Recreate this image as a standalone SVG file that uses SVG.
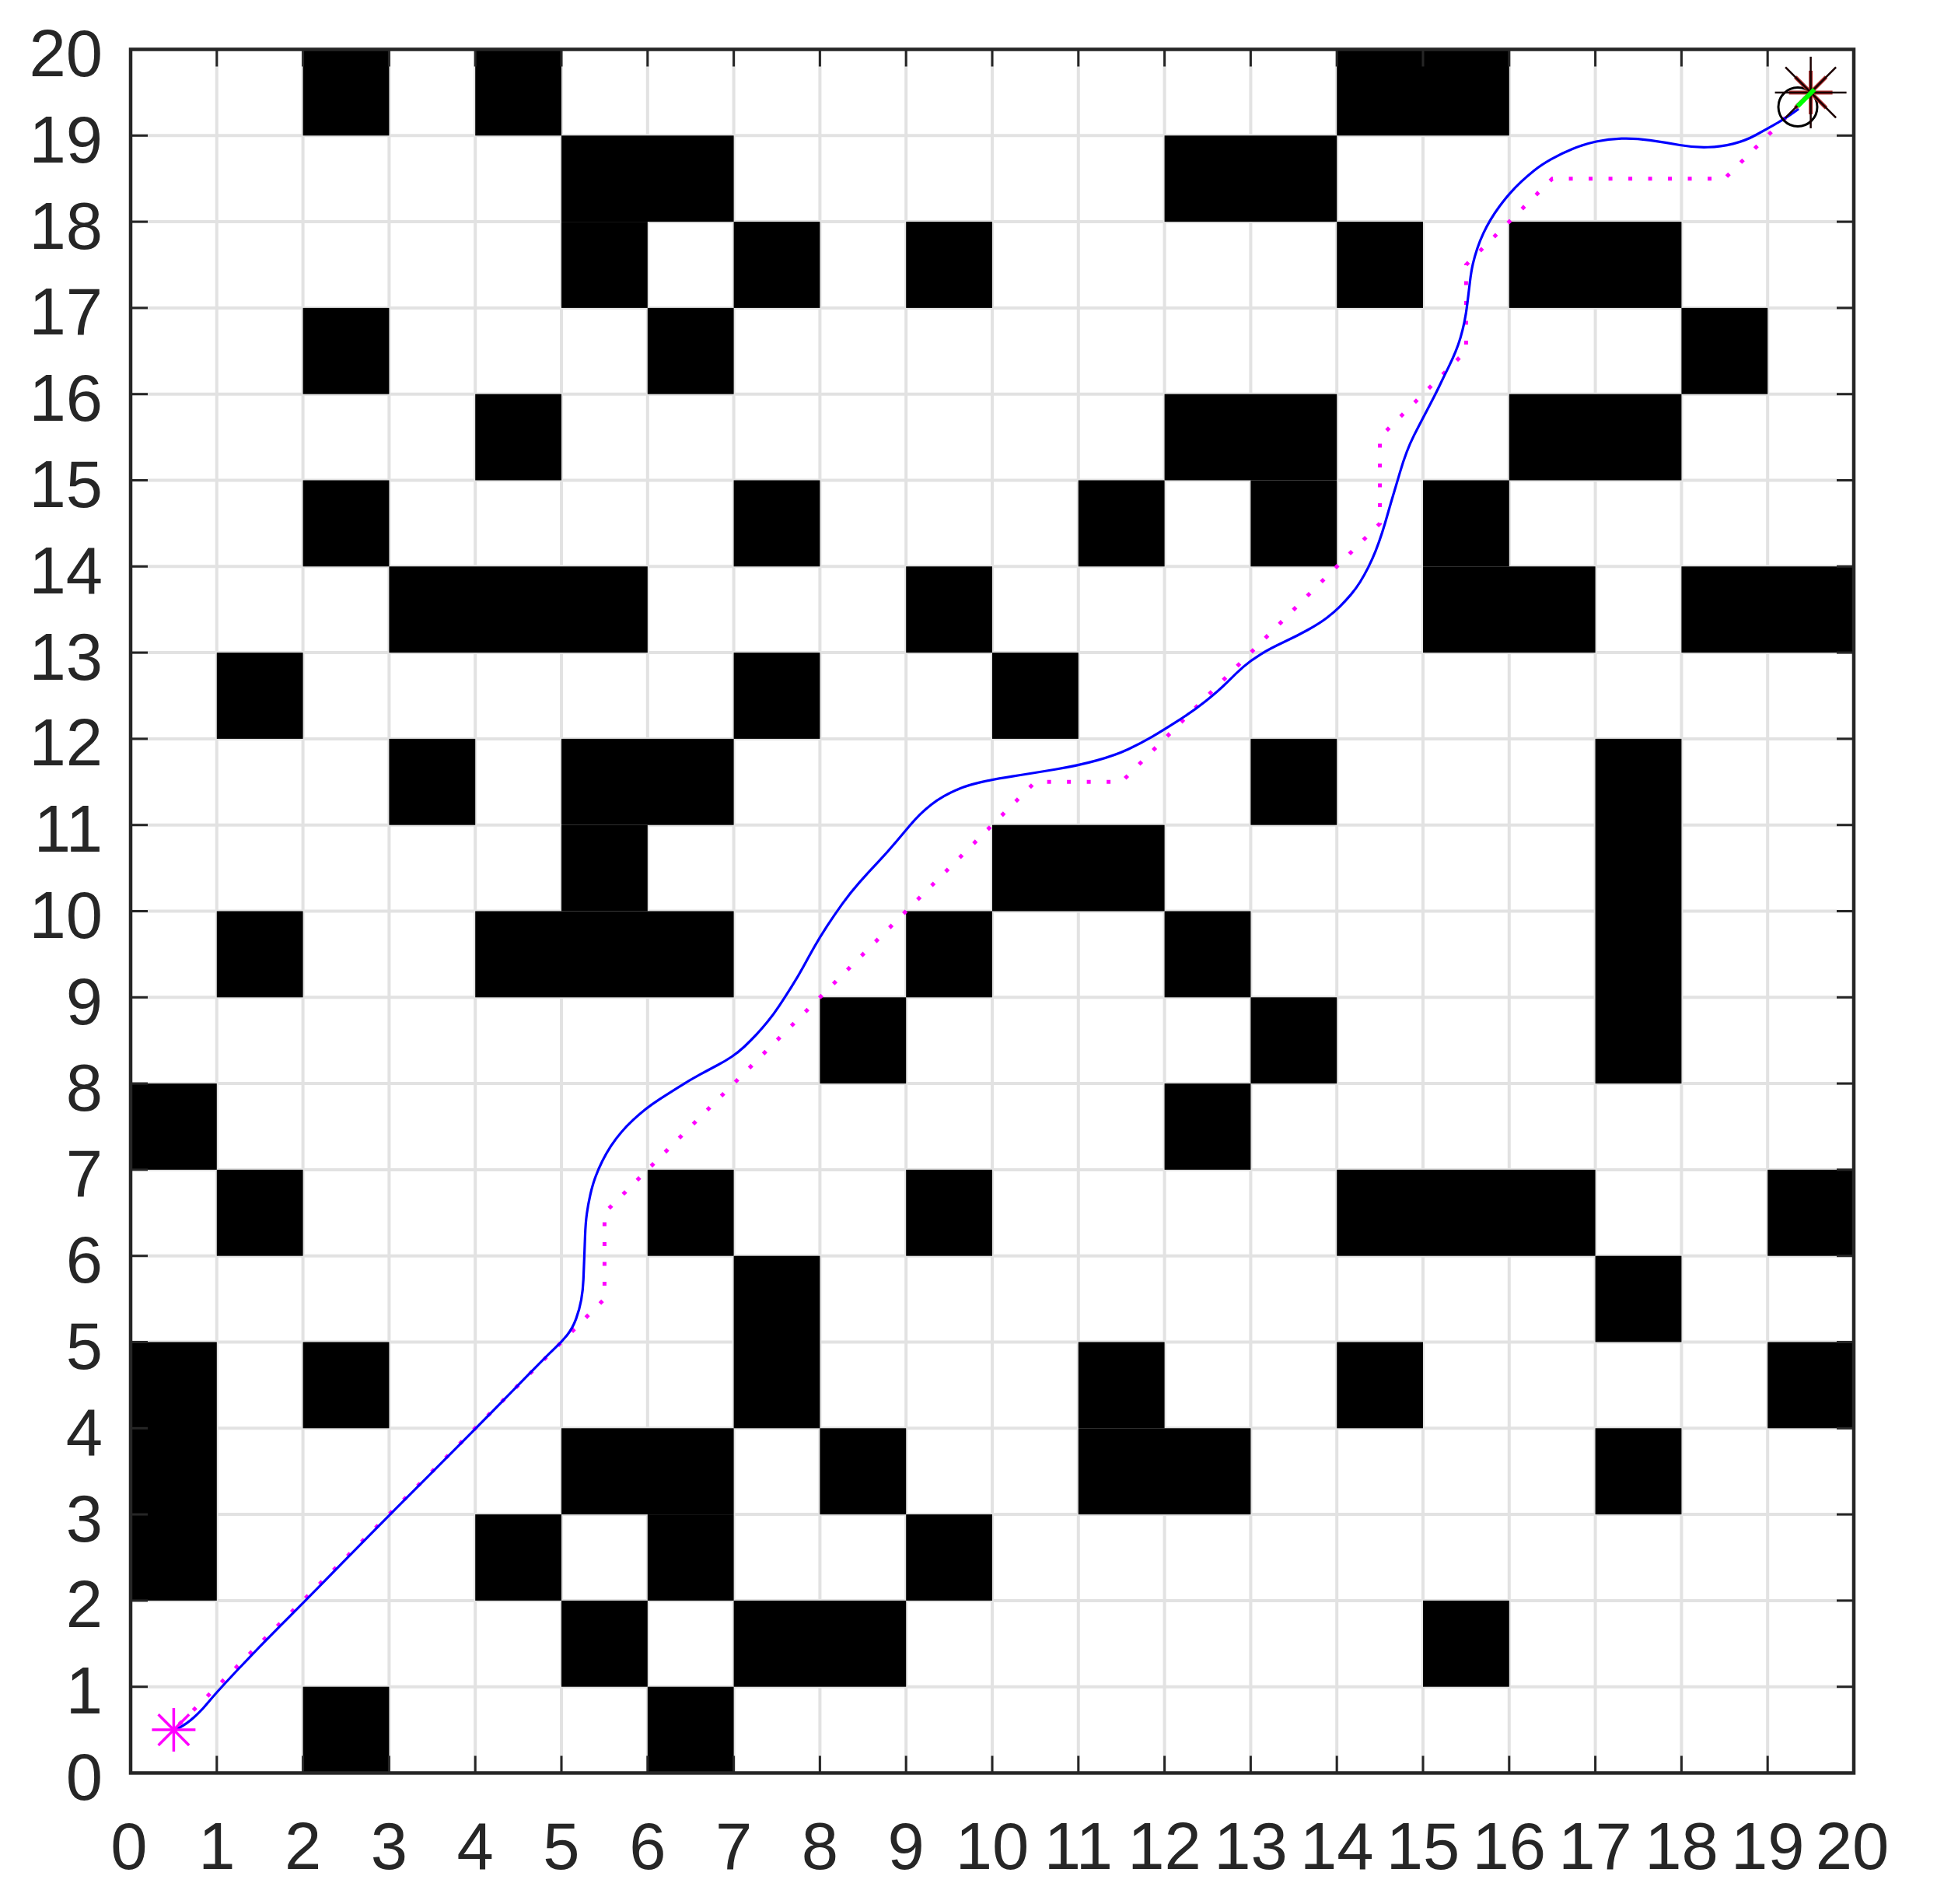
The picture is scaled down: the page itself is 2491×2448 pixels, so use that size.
<svg xmlns="http://www.w3.org/2000/svg" width="2491" height="2448" viewBox="0 0 2491 2448">
<style>
.grid line{stroke:#e2e2e2;stroke-width:4}
.tick line{stroke:#262626;stroke-width:3}
.lbl{font-family:"Liberation Sans",Arial,sans-serif;font-size:85px;fill:#262626}
.obs rect{fill:#000}
</style>
<rect x="0" y="0" width="2491" height="2448" fill="#fff"/>
<!-- grid lines -->
<g class="grid" id="grid">
<line x1="278.8" y1="63.5" x2="278.8" y2="2279.5"/><line x1="389.6" y1="63.5" x2="389.6" y2="2279.5"/><line x1="500.4" y1="63.5" x2="500.4" y2="2279.5"/><line x1="611.2" y1="63.5" x2="611.2" y2="2279.5"/><line x1="722" y1="63.5" x2="722" y2="2279.5"/><line x1="832.8" y1="63.5" x2="832.8" y2="2279.5"/><line x1="943.6" y1="63.5" x2="943.6" y2="2279.5"/><line x1="1054.4" y1="63.5" x2="1054.4" y2="2279.5"/><line x1="1165.2" y1="63.5" x2="1165.2" y2="2279.5"/><line x1="1276" y1="63.5" x2="1276" y2="2279.5"/><line x1="1386.8" y1="63.5" x2="1386.8" y2="2279.5"/><line x1="1497.6" y1="63.5" x2="1497.6" y2="2279.5"/><line x1="1608.4" y1="63.5" x2="1608.4" y2="2279.5"/><line x1="1719.2" y1="63.5" x2="1719.2" y2="2279.5"/><line x1="1830" y1="63.5" x2="1830" y2="2279.5"/><line x1="1940.8" y1="63.5" x2="1940.8" y2="2279.5"/><line x1="2051.6" y1="63.5" x2="2051.6" y2="2279.5"/><line x1="2162.4" y1="63.5" x2="2162.4" y2="2279.5"/><line x1="2273.2" y1="63.5" x2="2273.2" y2="2279.5"/>
<line x1="168" y1="2168.7" x2="2384" y2="2168.7"/><line x1="168" y1="2057.9" x2="2384" y2="2057.9"/><line x1="168" y1="1947.1" x2="2384" y2="1947.1"/><line x1="168" y1="1836.3" x2="2384" y2="1836.3"/><line x1="168" y1="1725.5" x2="2384" y2="1725.5"/><line x1="168" y1="1614.7" x2="2384" y2="1614.7"/><line x1="168" y1="1503.9" x2="2384" y2="1503.9"/><line x1="168" y1="1393.1" x2="2384" y2="1393.1"/><line x1="168" y1="1282.3" x2="2384" y2="1282.3"/><line x1="168" y1="1171.5" x2="2384" y2="1171.5"/><line x1="168" y1="1060.7" x2="2384" y2="1060.7"/><line x1="168" y1="949.9" x2="2384" y2="949.9"/><line x1="168" y1="839.1" x2="2384" y2="839.1"/><line x1="168" y1="728.3" x2="2384" y2="728.3"/><line x1="168" y1="617.5" x2="2384" y2="617.5"/><line x1="168" y1="506.7" x2="2384" y2="506.7"/><line x1="168" y1="395.9" x2="2384" y2="395.9"/><line x1="168" y1="285.1" x2="2384" y2="285.1"/><line x1="168" y1="174.3" x2="2384" y2="174.3"/>
</g>
<!-- obstacles, in map units -->
<g class="obs" id="obstacles" transform="matrix(110.8 0 0 -110.8 168 2279.5)">
<rect x="2" y="0" width="1" height="1"/><rect x="6" y="0" width="1" height="1"/>
<rect x="5" y="1" width="1" height="1"/><rect x="7" y="1" width="2" height="1"/><rect x="15" y="1" width="1" height="1"/>
<rect x="0" y="2" width="1" height="3"/><rect x="4" y="2" width="1" height="1"/><rect x="6" y="2" width="1" height="1"/><rect x="9" y="2" width="1" height="1"/>
<rect x="5" y="3" width="2" height="1"/><rect x="8" y="3" width="1" height="1"/><rect x="11" y="3" width="2" height="1"/><rect x="17" y="3" width="1" height="1"/>
<rect x="2" y="4" width="1" height="1"/><rect x="7" y="4" width="1" height="2"/><rect x="11" y="4" width="1" height="1"/><rect x="14" y="4" width="1" height="1"/><rect x="19" y="4" width="1" height="1"/>
<rect x="17" y="5" width="1" height="1"/>
<rect x="1" y="6" width="1" height="1"/><rect x="6" y="6" width="1" height="1"/><rect x="9" y="6" width="1" height="1"/><rect x="14" y="6" width="3" height="1"/><rect x="19" y="6" width="1" height="1"/>
<rect x="0" y="7" width="1" height="1"/><rect x="12" y="7" width="1" height="1"/>
<rect x="8" y="8" width="1" height="1"/><rect x="13" y="8" width="1" height="1"/><rect x="17" y="8" width="1" height="4"/>
<rect x="1" y="9" width="1" height="1"/><rect x="4" y="9" width="3" height="1"/><rect x="9" y="9" width="1" height="1"/><rect x="12" y="9" width="1" height="1"/>
<rect x="5" y="10" width="1" height="1"/><rect x="10" y="10" width="2" height="1"/>
<rect x="3" y="11" width="1" height="1"/><rect x="5" y="11" width="2" height="1"/><rect x="13" y="11" width="1" height="1"/>
<rect x="1" y="12" width="1" height="1"/><rect x="7" y="12" width="1" height="1"/><rect x="10" y="12" width="1" height="1"/>
<rect x="3" y="13" width="3" height="1"/><rect x="9" y="13" width="1" height="1"/><rect x="15" y="13" width="2" height="1"/><rect x="18" y="13" width="2" height="1"/>
<rect x="2" y="14" width="1" height="1"/><rect x="7" y="14" width="1" height="1"/><rect x="11" y="14" width="1" height="1"/><rect x="13" y="14" width="1" height="1"/><rect x="15" y="14" width="1" height="1"/>
<rect x="4" y="15" width="1" height="1"/><rect x="12" y="15" width="2" height="1"/><rect x="16" y="15" width="2" height="1"/>
<rect x="2" y="16" width="1" height="1"/><rect x="6" y="16" width="1" height="1"/><rect x="18" y="16" width="1" height="1"/>
<rect x="5" y="17" width="1" height="1"/><rect x="7" y="17" width="1" height="1"/><rect x="9" y="17" width="1" height="1"/><rect x="14" y="17" width="1" height="1"/><rect x="16" y="17" width="2" height="1"/>
<rect x="5" y="18" width="2" height="1"/><rect x="12" y="18" width="2" height="1"/>
<rect x="2" y="19" width="1" height="1"/><rect x="4" y="19" width="1" height="1"/><rect x="14" y="19" width="2" height="1"/>
</g>
<!-- paths -->
<g id="paths">
<polyline id="grid-path" fill="none" stroke="#ff00ff" stroke-width="5" stroke-dasharray="5 20.5" stroke-dashoffset="-10" points="223.4,2224.1 777.4,1670.1 777.4,1559.3 1331.4,1005.3 1442.2,1005.3 1774.6,672.9 1774.6,562.1 1885.4,451.3 1885.4,340.5 1996.2,229.7 2217.8,229.7 2328.6,118.9"/>
<g transform="matrix(110.8 0 0 -110.8 168 2279.5)">
<path id="smooth-path" fill="none" stroke="#0000ff" stroke-width="3.2" stroke-linejoin="round" vector-effect="non-scaling-stroke" d="M0.5,0.49 L0.575,0.53 Q0.65,0.57 0.735,0.645 Q0.82,0.72 0.91,0.83 Q1,0.94 1.25,1.205 Q1.5,1.47 1.75,1.72 Q2,1.97 2.5,2.48 Q3,2.99 3.5,3.49 Q4,3.99 4.41,4.41 Q4.82,4.83 4.91,4.915 Q5,5 5.065,5.08 Q5.13,5.16 5.17,5.27 Q5.21,5.38 5.23,5.49 Q5.25,5.6 5.255,5.725 Q5.26,5.85 5.265,5.975 Q5.27,6.1 5.275,6.24 Q5.28,6.38 5.295,6.49 Q5.31,6.6 5.335,6.71 Q5.36,6.82 5.395,6.915 Q5.43,7.01 5.475,7.1 Q5.52,7.19 5.575,7.275 Q5.63,7.36 5.695,7.435 Q5.76,7.51 5.83,7.575 Q5.9,7.64 5.975,7.7 Q6.05,7.76 6.135,7.815 Q6.22,7.87 6.355,7.955 Q6.49,8.04 6.61,8.105 Q6.73,8.17 6.815,8.215 Q6.9,8.26 6.975,8.31 Q7.05,8.36 7.125,8.43 Q7.2,8.5 7.265,8.57 Q7.33,8.64 7.395,8.72 Q7.46,8.8 7.53,8.905 Q7.6,9.01 7.675,9.13 Q7.75,9.25 7.81,9.36 Q7.87,9.47 7.935,9.585 Q8,9.7 8.085,9.83 Q8.17,9.96 8.26,10.085 Q8.35,10.21 8.46,10.335 Q8.57,10.46 8.675,10.57 Q8.78,10.68 8.885,10.805 Q8.99,10.93 9.045,10.995 Q9.1,11.06 9.16,11.12 Q9.22,11.18 9.29,11.235 Q9.36,11.29 9.44,11.335 Q9.52,11.38 9.615,11.42 Q9.71,11.46 9.86,11.495 Q10.01,11.53 10.235,11.565 Q10.46,11.6 10.73,11.645 Q11,11.69 11.215,11.75 Q11.43,11.81 11.58,11.88 Q11.73,11.95 11.85,12.02 Q11.97,12.09 12.15,12.205 Q12.33,12.32 12.48,12.44 Q12.63,12.56 12.73,12.66 Q12.83,12.76 12.915,12.835 Q13,12.91 13.115,12.98 Q13.23,13.05 13.38,13.12 Q13.53,13.19 13.665,13.265 Q13.8,13.34 13.885,13.405 Q13.97,13.47 14.035,13.535 Q14.1,13.6 14.16,13.67 Q14.22,13.74 14.27,13.82 Q14.32,13.9 14.365,13.99 Q14.41,14.08 14.45,14.18 Q14.49,14.28 14.525,14.39 Q14.56,14.5 14.595,14.625 Q14.63,14.75 14.665,14.865 Q14.7,14.98 14.735,15.1 Q14.77,15.22 14.81,15.325 Q14.85,15.43 14.895,15.52 Q14.94,15.61 14.99,15.705 Q15.04,15.8 15.095,15.905 Q15.15,16.01 15.2,16.115 Q15.25,16.22 15.295,16.31 Q15.34,16.4 15.375,16.485 Q15.41,16.57 15.435,16.655 Q15.46,16.74 15.48,16.835 Q15.5,16.93 15.515,17.055 Q15.53,17.18 15.545,17.305 Q15.56,17.43 15.58,17.515 Q15.6,17.6 15.63,17.69 Q15.66,17.78 15.7,17.865 Q15.74,17.95 15.785,18.025 Q15.83,18.1 15.885,18.175 Q15.94,18.25 16.005,18.325 Q16.07,18.4 16.14,18.465 Q16.21,18.53 16.29,18.595 Q16.37,18.66 16.485,18.725 Q16.6,18.79 16.735,18.845 Q16.87,18.9 17.01,18.93 Q17.15,18.96 17.305,18.965 Q17.46,18.97 17.635,18.945 Q17.81,18.92 17.98,18.89 Q18.15,18.86 18.305,18.865 Q18.46,18.87 18.6,18.905 Q18.74,18.94 18.86,19.005 Q18.98,19.07 19.085,19.13 Q19.19,19.19 19.275,19.25 L19.36,19.31"/>
</g>
</g>
<!-- start marker -->
<g id="start" stroke="#ff00ff" stroke-width="3.5" fill="none">
<line x1="195.4" y1="2224.1" x2="251.4" y2="2224.1"/>
<line x1="223.4" y1="2196.1" x2="223.4" y2="2252.1"/>
<line x1="203.6" y1="2204.3" x2="243.2" y2="2243.9"/>
<line x1="203.6" y1="2243.9" x2="243.2" y2="2204.3"/>
</g>
<!-- goal markers -->
<g id="goal">
<circle cx="2312" cy="137.5" r="25" fill="none" stroke="#000" stroke-width="3"/>
<g stroke="#b03030" stroke-width="5">
<line x1="2300.6" y1="118.9" x2="2356.6" y2="118.9"/>
<line x1="2328.6" y1="90.9" x2="2328.6" y2="146.9"/>
<line x1="2308.8" y1="99.1" x2="2348.4" y2="138.7"/>
<line x1="2308.8" y1="138.7" x2="2348.4" y2="99.1"/>
</g>
<g stroke="#1a0000" stroke-width="2.5">
<line x1="2282.6" y1="118.9" x2="2374.6" y2="118.9"/>
<line x1="2328.6" y1="72.9" x2="2328.6" y2="164.9"/>
<line x1="2296.1" y1="86.4" x2="2361.1" y2="151.4"/>
<line x1="2296.1" y1="151.4" x2="2361.1" y2="86.4"/>
</g>
<line id="end-seg" x1="2311.7" y1="136.7" x2="2333.3" y2="115" stroke="#00ff00" stroke-width="6"/>
</g>
<!-- ticks -->
<g class="tick" id="ticks">
<line x1="278.8" y1="2279.5" x2="278.8" y2="2257.5"/><line x1="389.6" y1="2279.5" x2="389.6" y2="2257.5"/><line x1="500.4" y1="2279.5" x2="500.4" y2="2257.5"/><line x1="611.2" y1="2279.5" x2="611.2" y2="2257.5"/><line x1="722" y1="2279.5" x2="722" y2="2257.5"/><line x1="832.8" y1="2279.5" x2="832.8" y2="2257.5"/><line x1="943.6" y1="2279.5" x2="943.6" y2="2257.5"/><line x1="1054.4" y1="2279.5" x2="1054.4" y2="2257.5"/><line x1="1165.2" y1="2279.5" x2="1165.2" y2="2257.5"/><line x1="1276" y1="2279.5" x2="1276" y2="2257.5"/><line x1="1386.8" y1="2279.5" x2="1386.8" y2="2257.5"/><line x1="1497.6" y1="2279.5" x2="1497.6" y2="2257.5"/><line x1="1608.4" y1="2279.5" x2="1608.4" y2="2257.5"/><line x1="1719.2" y1="2279.5" x2="1719.2" y2="2257.5"/><line x1="1830" y1="2279.5" x2="1830" y2="2257.5"/><line x1="1940.8" y1="2279.5" x2="1940.8" y2="2257.5"/><line x1="2051.6" y1="2279.5" x2="2051.6" y2="2257.5"/><line x1="2162.4" y1="2279.5" x2="2162.4" y2="2257.5"/><line x1="2273.2" y1="2279.5" x2="2273.2" y2="2257.5"/>
<line x1="278.8" y1="63.5" x2="278.8" y2="85.5"/><line x1="389.6" y1="63.5" x2="389.6" y2="85.5"/><line x1="500.4" y1="63.5" x2="500.4" y2="85.5"/><line x1="611.2" y1="63.5" x2="611.2" y2="85.5"/><line x1="722" y1="63.5" x2="722" y2="85.5"/><line x1="832.8" y1="63.5" x2="832.8" y2="85.5"/><line x1="943.6" y1="63.5" x2="943.6" y2="85.5"/><line x1="1054.4" y1="63.5" x2="1054.4" y2="85.5"/><line x1="1165.2" y1="63.5" x2="1165.2" y2="85.5"/><line x1="1276" y1="63.5" x2="1276" y2="85.5"/><line x1="1386.8" y1="63.5" x2="1386.8" y2="85.5"/><line x1="1497.6" y1="63.5" x2="1497.6" y2="85.5"/><line x1="1608.4" y1="63.5" x2="1608.4" y2="85.5"/><line x1="1719.2" y1="63.5" x2="1719.2" y2="85.5"/><line x1="1830" y1="63.5" x2="1830" y2="85.5"/><line x1="1940.8" y1="63.5" x2="1940.8" y2="85.5"/><line x1="2051.6" y1="63.5" x2="2051.6" y2="85.5"/><line x1="2162.4" y1="63.5" x2="2162.4" y2="85.5"/><line x1="2273.2" y1="63.5" x2="2273.2" y2="85.5"/>
<line x1="168" y1="2168.7" x2="190" y2="2168.7"/><line x1="168" y1="2057.9" x2="190" y2="2057.9"/><line x1="168" y1="1947.1" x2="190" y2="1947.1"/><line x1="168" y1="1836.3" x2="190" y2="1836.3"/><line x1="168" y1="1725.5" x2="190" y2="1725.5"/><line x1="168" y1="1614.7" x2="190" y2="1614.7"/><line x1="168" y1="1503.9" x2="190" y2="1503.9"/><line x1="168" y1="1393.1" x2="190" y2="1393.1"/><line x1="168" y1="1282.3" x2="190" y2="1282.3"/><line x1="168" y1="1171.5" x2="190" y2="1171.5"/><line x1="168" y1="1060.7" x2="190" y2="1060.7"/><line x1="168" y1="949.9" x2="190" y2="949.9"/><line x1="168" y1="839.1" x2="190" y2="839.1"/><line x1="168" y1="728.3" x2="190" y2="728.3"/><line x1="168" y1="617.5" x2="190" y2="617.5"/><line x1="168" y1="506.7" x2="190" y2="506.7"/><line x1="168" y1="395.9" x2="190" y2="395.9"/><line x1="168" y1="285.1" x2="190" y2="285.1"/><line x1="168" y1="174.3" x2="190" y2="174.3"/>
<line x1="2384" y1="2168.7" x2="2362" y2="2168.7"/><line x1="2384" y1="2057.9" x2="2362" y2="2057.9"/><line x1="2384" y1="1947.1" x2="2362" y2="1947.1"/><line x1="2384" y1="1836.3" x2="2362" y2="1836.3"/><line x1="2384" y1="1725.5" x2="2362" y2="1725.5"/><line x1="2384" y1="1614.7" x2="2362" y2="1614.7"/><line x1="2384" y1="1503.9" x2="2362" y2="1503.9"/><line x1="2384" y1="1393.1" x2="2362" y2="1393.1"/><line x1="2384" y1="1282.3" x2="2362" y2="1282.3"/><line x1="2384" y1="1171.5" x2="2362" y2="1171.5"/><line x1="2384" y1="1060.7" x2="2362" y2="1060.7"/><line x1="2384" y1="949.9" x2="2362" y2="949.9"/><line x1="2384" y1="839.1" x2="2362" y2="839.1"/><line x1="2384" y1="728.3" x2="2362" y2="728.3"/><line x1="2384" y1="617.5" x2="2362" y2="617.5"/><line x1="2384" y1="506.7" x2="2362" y2="506.7"/><line x1="2384" y1="395.9" x2="2362" y2="395.9"/><line x1="2384" y1="285.1" x2="2362" y2="285.1"/><line x1="2384" y1="174.3" x2="2362" y2="174.3"/>
</g>
<!-- axes box -->
<rect id="axes" x="168" y="63.5" width="2216" height="2216" fill="none" stroke="#262626" stroke-width="4.5"/>
<!-- x tick labels -->
<g class="lbl" id="xlabels" text-anchor="middle">
<text x="166" y="2403">0</text><text x="278.8" y="2403">1</text><text x="389.6" y="2403">2</text><text x="500.4" y="2403">3</text><text x="611.2" y="2403">4</text><text x="722" y="2403">5</text><text x="832.8" y="2403">6</text><text x="943.6" y="2403">7</text><text x="1054.4" y="2403">8</text><text x="1165.2" y="2403">9</text><text x="1276" y="2403">10</text><text x="1386.8" y="2403">11</text><text x="1497.6" y="2403">12</text><text x="1608.4" y="2403">13</text><text x="1719.2" y="2403">14</text><text x="1830" y="2403">15</text><text x="1940.8" y="2403">16</text><text x="2051.6" y="2403">17</text><text x="2162.4" y="2403">18</text><text x="2273.2" y="2403">19</text><text x="2382" y="2403">20</text>
</g>
<!-- y tick labels -->
<g class="lbl" id="ylabels" text-anchor="end">
<text x="132" y="2314">0</text><text x="132" y="2203.2">1</text><text x="132" y="2092.4">2</text><text x="132" y="1981.6">3</text><text x="132" y="1870.8">4</text><text x="132" y="1760">5</text><text x="132" y="1649.2">6</text><text x="132" y="1538.4">7</text><text x="132" y="1427.6">8</text><text x="132" y="1316.8">9</text><text x="132" y="1206">10</text><text x="132" y="1095.2">11</text><text x="132" y="984.4">12</text><text x="132" y="873.6">13</text><text x="132" y="762.8">14</text><text x="132" y="652">15</text><text x="132" y="541.2">16</text><text x="132" y="430.4">17</text><text x="132" y="319.6">18</text><text x="132" y="208.8">19</text><text x="132" y="98">20</text>
</g>
</svg>
